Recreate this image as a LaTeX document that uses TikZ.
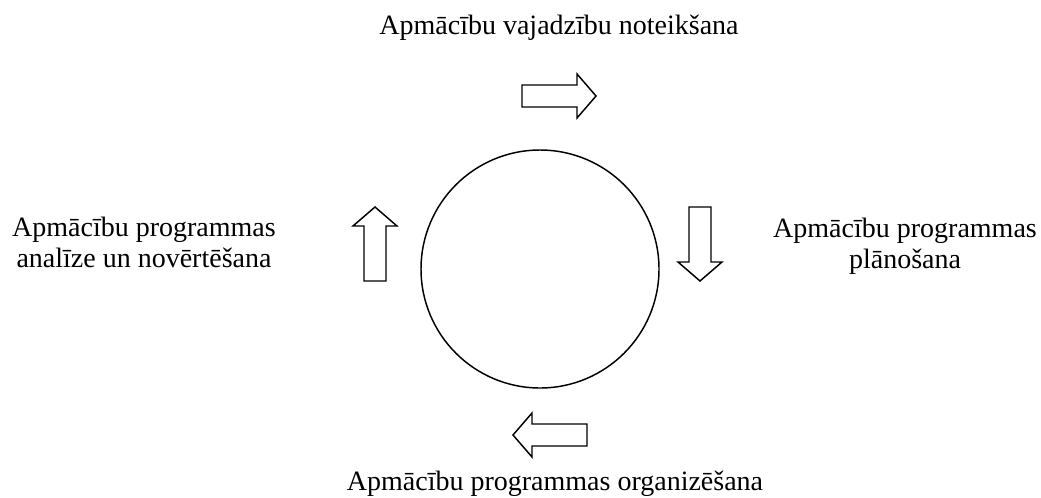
\documentclass[tikz,border=0pt]{standalone}
\usepackage{fontspec}
\setmainfont{Liberation Serif}
\usetikzlibrary{positioning}

\begin{document}
\begin{tikzpicture}[
      x=0.75pt, y=-0.75pt,
      lbl/.style={font=\fontsize{21pt}{23pt}\selectfont, align=center, inner sep=0pt},
      fatarrow/.pic={
        \draw[line width=1.1pt, line join=miter, fill=white]
          (-37,-11) -- (18,-11) -- (18,-22) -- (37,0) -- (18,22) -- (18,11) -- (-37,11) -- cycle;
      }
    ]
      \useasboundingbox (0,0) rectangle (1041,497);

      % Cycle
      \node[draw, line width=1.1pt, circle, minimum size=238*0.75pt, inner sep=0pt] (cycle) at (540,269) {};

      % Stage labels
      \node[lbl, anchor=base] (needs) at (559,34) {Apmācību vajadzību noteikšana};
      \node[lbl, anchor=base] (plan) at (905,268) {Apmācību programmas\\plānošana};
      \node[lbl, anchor=base] (org) at (555,490) {Apmācību programmas organizēšana};
      \node[lbl, anchor=base] (eval) at (144,267) {Apmācību programmas\\analīze un novērtēšana};

      % Arrows between stages
      \pic at (559,96) {fatarrow};
      \pic[rotate=-90] at (700,244) {fatarrow};
      \pic[rotate=180] at (550,435) {fatarrow};
      \pic[rotate=90] at (375,244) {fatarrow};
    \end{tikzpicture}
\end{document}
